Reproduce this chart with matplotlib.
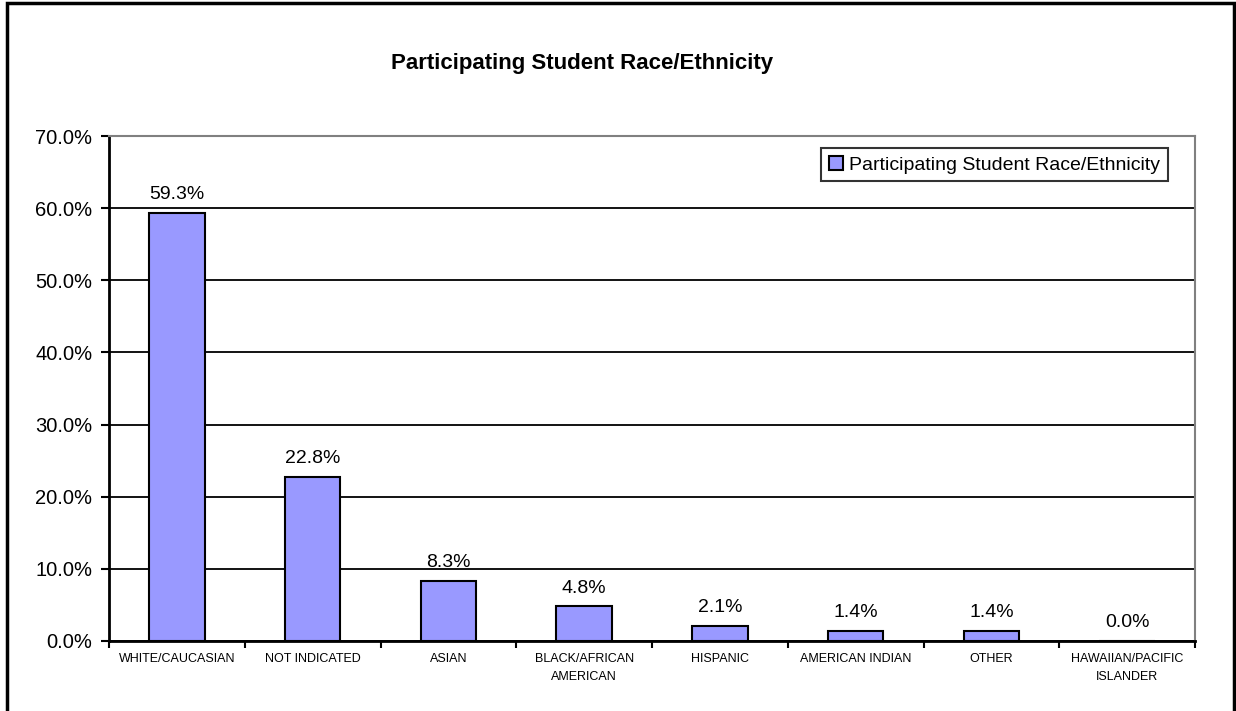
import matplotlib
matplotlib.use("Agg")
import matplotlib.pyplot as plt
from matplotlib.patches import Rectangle
from matplotlib.ticker import FixedLocator, PercentFormatter

categories = ["WHITE/CAUCASIAN", "NOT INDICATED", "ASIAN", "BLACK/AFRICAN\nAMERICAN",
              "HISPANIC", "AMERICAN INDIAN", "OTHER", "HAWAIIAN/PACIFIC\nISLANDER"]
values = [59.3, 22.8, 8.3, 4.8, 2.1, 1.4, 1.4, 0.0]
series_name = "Participating Student Race/Ethnicity"
title = "Participating Student Race/Ethnicity"

plt.rcParams["font.family"] = ["Liberation Sans", "DejaVu Sans"]

W, H = 1236, 711
fig = plt.figure(figsize=(W / 100, H / 100), dpi=100)
ax = fig.add_axes([109 / W, 1 - 641 / H, (1195 - 109) / W, (641 - 136) / H])

x = list(range(len(categories)))
bars = ax.bar(x, values, width=0.41, color="#9999FF", edgecolor="black",
              linewidth=1.5, label=series_name, zorder=3)

for xi, v in zip(x, values):
    ax.annotate(f"{v:.1f}%", (xi, v), xytext=(0, 7), textcoords="offset points",
                ha="center", va="bottom", fontsize=14)

ax.set_xlim(-0.5, len(categories) - 0.5)
ax.set_ylim(0, 70)
ax.yaxis.set_major_locator(FixedLocator([0, 10, 20, 30, 40, 50, 60, 70]))
ax.yaxis.set_major_formatter(PercentFormatter(decimals=1))
ax.grid(axis="y", color="black", linewidth=1.3, zorder=0)
ax.tick_params(axis="y", labelsize=14.5, length=6, width=1.5, direction="out", pad=6)

# category labels sit centred between boundary tick marks
ax.set_xticks([i - 0.5 for i in range(len(categories) + 1)])
ax.set_xticklabels([])
ax.set_xticks(x, minor=True)
ax.set_xticklabels(categories, minor=True, fontsize=9, linespacing=1.6)
ax.tick_params(axis="x", which="major", length=5, width=1.5, direction="out")
ax.tick_params(axis="x", which="minor", length=0, pad=9)

for side in ("left", "bottom"):
    ax.spines[side].set_color("black")
    ax.spines[side].set_linewidth(2)
for side in ("top", "right"):
    ax.spines[side].set_color("#808080")
    ax.spines[side].set_linewidth(1.5)

leg = ax.legend(loc="upper right", bbox_to_anchor=(1168 / W, 1 - 148 / H),
                bbox_transform=fig.transFigure, fontsize=14, frameon=True,
                fancybox=False, borderpad=0.4, handlelength=0.75, handleheight=0.75,
                handletextpad=0.3, borderaxespad=0)
leg.get_frame().set_edgecolor("black")
leg.get_frame().set_linewidth(1.5)

fig.text(582 / W, 1 - 63 / H, title, ha="center", va="center",
         fontsize=16, fontweight="bold")

fig.add_artist(Rectangle((7 / W, -0.01), (1234 - 7) / W, 1 - 3 / H + 0.01,
                         transform=fig.transFigure, fill=False,
                         edgecolor="black", linewidth=2.5, clip_on=False))

fig.savefig("out.png", dpi=100)
